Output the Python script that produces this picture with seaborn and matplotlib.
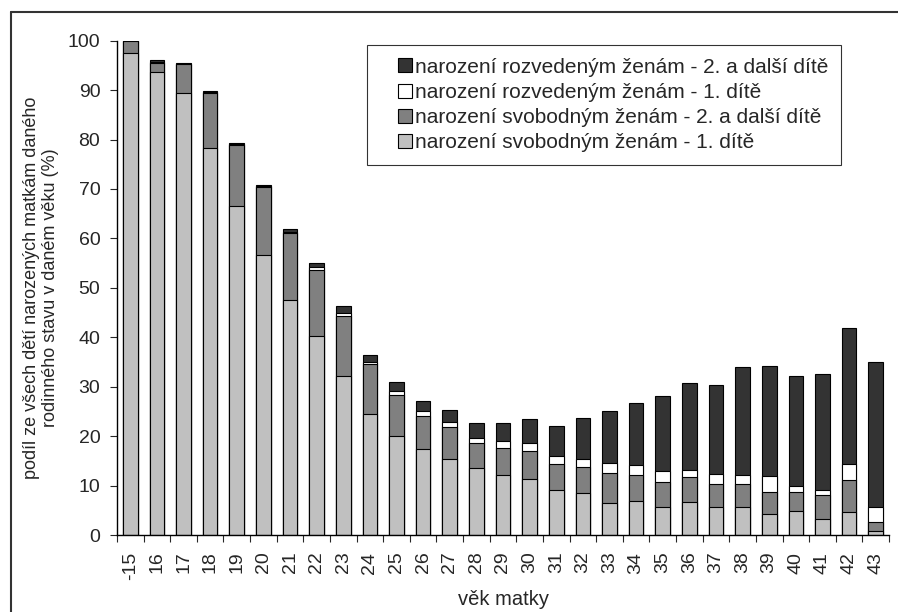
import numpy as np
import pandas as pd
import seaborn as sns
import matplotlib.pyplot as plt
from matplotlib.lines import Line2D
from matplotlib.patches import Rectangle
from matplotlib.container import BarContainer
from matplotlib.legend_handler import HandlerPatch

# věk matky
ages = ["-15"] + [str(a) for a in range(16, 44)]

# podíly jednotlivých složek (%)
svob_1 = [97.6, 93.7, 89.5, 78.2, 66.5, 56.6, 47.5, 40.3, 32.1, 24.4, 20.0, 17.3, 15.4, 13.5, 12.2,
          11.4, 9.2, 8.4, 6.5, 6.9, 5.6, 6.7, 5.6, 5.7, 4.3, 4.9, 3.3, 4.7, 0.8]
svob_2 = [2.3, 1.8, 5.7, 11.3, 12.5, 13.8, 13.5, 13.4, 12.3, 10.2, 8.4, 6.8, 6.5, 5.1, 5.5,
          5.5, 5.2, 5.3, 6.1, 5.3, 5.1, 5.1, 4.7, 4.6, 4.5, 3.9, 4.7, 6.5, 1.9]
rozv_1 = [0.1, 0.2, 0.1, 0.1, 0.2, 0.2, 0.3, 0.5, 0.6, 0.4, 0.7, 0.9, 1.0, 1.0, 1.3,
          1.7, 1.6, 1.7, 2.0, 1.9, 2.3, 1.4, 2.1, 1.9, 3.2, 1.1, 1.2, 3.1, 2.9]
rozv_2 = [0.0, 0.3, 0.1, 0.2, 0.2, 0.3, 0.6, 0.8, 1.3, 1.5, 1.9, 2.1, 2.3, 3.1, 3.7,
          4.9, 6.0, 8.2, 10.5, 12.6, 15.2, 17.5, 17.9, 21.8, 22.2, 22.3, 23.4, 27.5, 29.4]

labels = [
    "narození rozvedeným ženám - 2. a další dítě",
    "narození rozvedeným ženám - 1. dítě",
    "narození svobodným ženám - 2. a další dítě",
    "narození svobodným ženám - 1. dítě",
]
colors = ["#333333", "#ffffff", "#808080", "#c0c0c0"]

# kumulativní výšky (kreslí se od nejvyšší vrstvy dolů)
stack = np.array([svob_1, svob_2, rozv_1, rozv_2])
cum = np.cumsum(stack, axis=0)
tops = [cum[3], cum[2], cum[1], cum[0]]

sns.set_style("white")
plt.rcParams["font.family"] = ["Liberation Sans", "DejaVu Sans"]

fig = plt.figure(figsize=(8.98, 6.12), dpi=100)
ax = fig.add_axes([117 / 898, 1 - 535 / 612, 772 / 898, 494.3 / 612])

for lab, col, h in zip(labels, colors, tops):
    df = pd.DataFrame({"vek": ages, "podil": h})
    sns.barplot(data=df, x="vek", y="podil", order=ages, color=col, label=lab,
                width=0.55, edgecolor="black", linewidth=0.8, saturation=1, ax=ax)

ax.set_ylim(0, 100)
ax.set_xlim(-0.5, len(ages) - 0.5)
ax.set_yticks(range(0, 101, 10))
ax.tick_params(axis="y", labelsize=14, length=5, width=0.8, direction="out", left=True, pad=7)
ax.tick_params(axis="x", which="major", labelsize=14, length=0, rotation=90, pad=12)
ax.set_xticks(np.arange(-0.5, len(ages), 1), minor=True)
ax.tick_params(axis="x", which="minor", length=5, width=0.8, direction="out", bottom=True)

for s in ["top", "right"]:
    ax.spines[s].set_visible(False)
for s in ["left", "bottom"]:
    ax.spines[s].set_color("black")
    ax.spines[s].set_linewidth(1)

ax.set_xlabel("věk matky", fontsize=14.5, labelpad=7)
ax.set_ylabel("podíl ze všech dětí narozených matkám daného\nrodinného stavu v daném věku (%)",
              fontsize=13, labelpad=6)


# čtvereček legendy zarovnaný doprava v handleboxu
def square_patch(legend, orig_handle, xdescent, ydescent, width, height, fontsize):
    s = 14 * 72 / 100
    return Rectangle((width - s - xdescent, (height - s) / 2 - ydescent), s, s)


def from_first_bar(tgt, src):
    tgt.update_from(src.patches[0])


sq = HandlerPatch(patch_func=square_patch, update_func=from_first_bar)
leg = ax.legend(loc="upper left", bbox_to_anchor=(0.324, 0.991), borderaxespad=0,
                fontsize=15, frameon=True, fancybox=False, handlelength=1.56, handleheight=0.7,
                handletextpad=0.15, labelspacing=0.3, borderpad=0.6,
                handler_map={BarContainer: sq})
leg.get_frame().set_edgecolor("black")
leg.get_frame().set_linewidth(0.8)

# rámeček kolem celého grafu
fig.add_artist(Line2D([11 / 898, 11 / 898], [0, 1 - 12 / 612], color="#333333", lw=1.5))
fig.add_artist(Line2D([11 / 898, 1], [1 - 12 / 612, 1 - 12 / 612], color="#333333", lw=1.5))

fig.savefig("out.png", dpi=100)
